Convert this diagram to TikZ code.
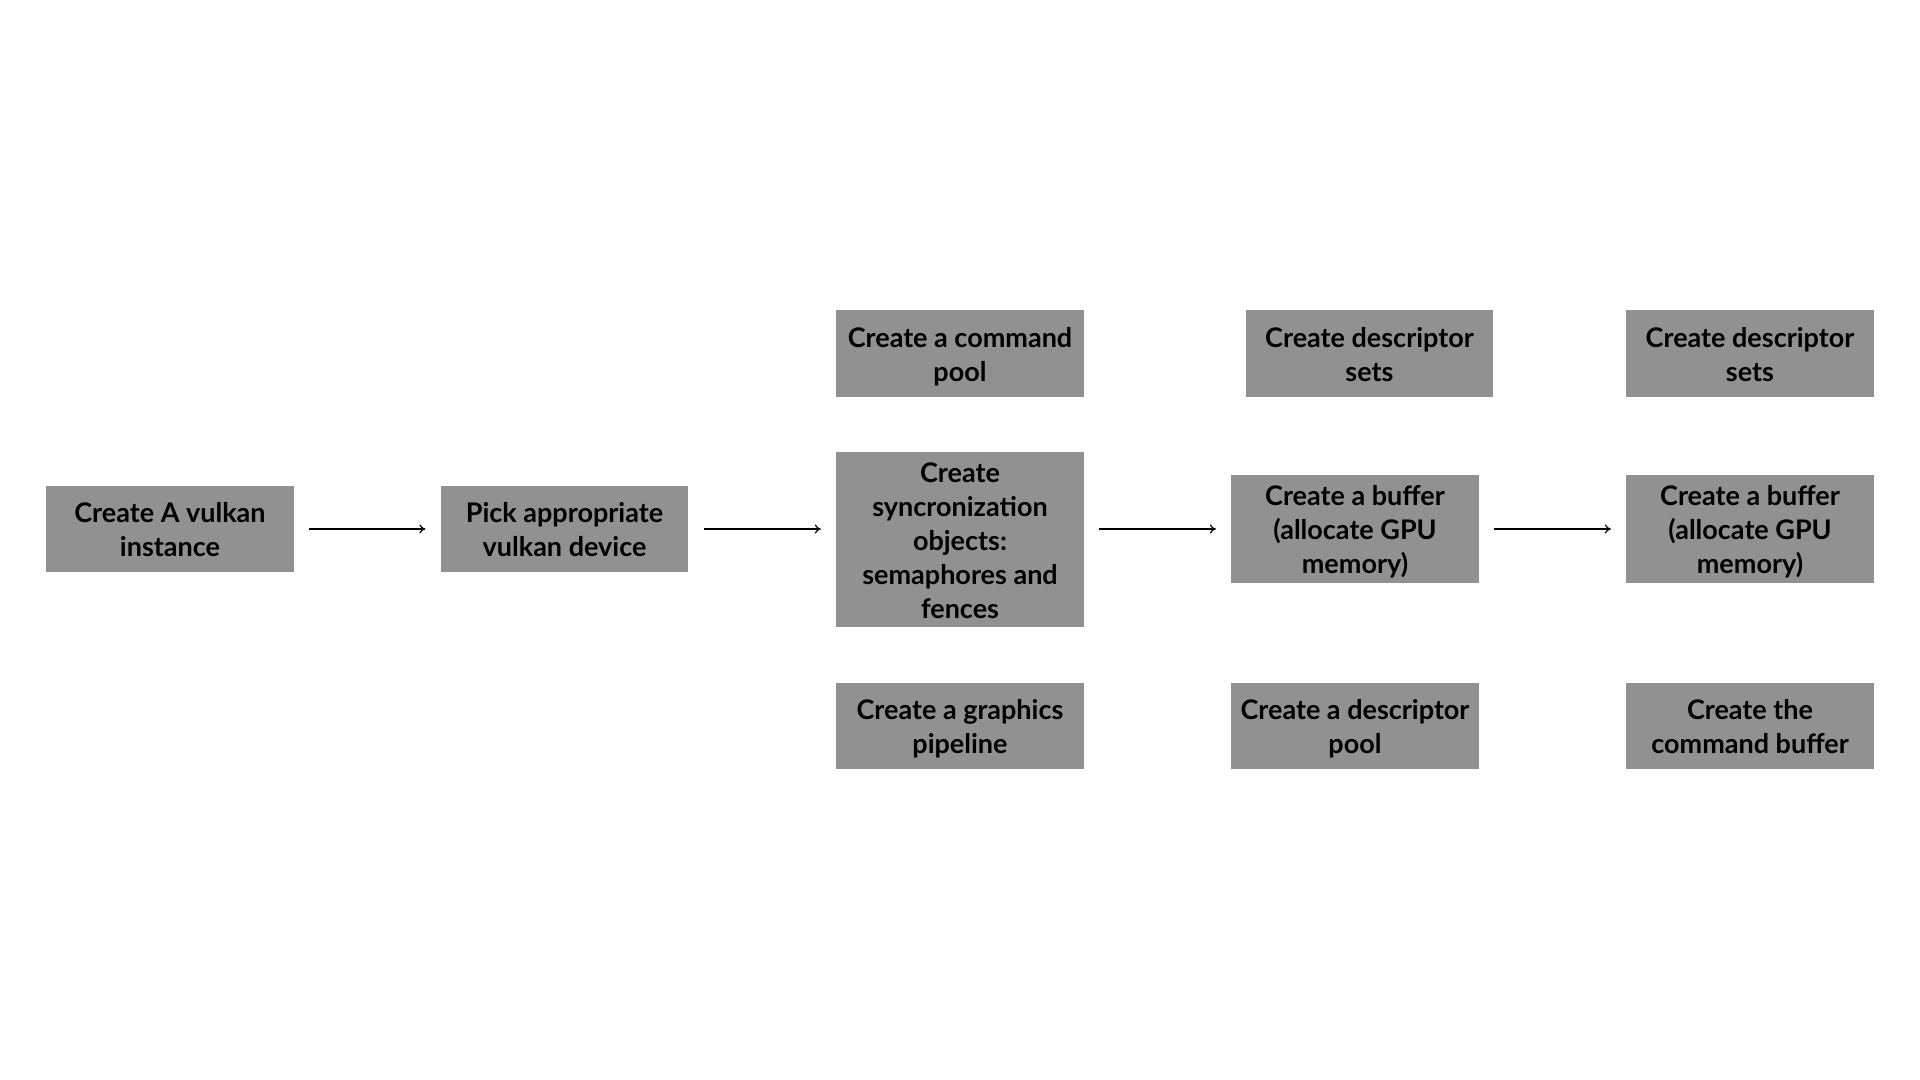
\documentclass[tikz,border=0pt]{standalone}
\usepackage{fontspec}
\setmainfont{Lato}
\usetikzlibrary{arrows.meta}
\definecolor{boxgray}{RGB}{145,145,145}
\newcommand{\boxstrut}{\rule{0pt}{13.6pt}}

\begin{document}
\begin{tikzpicture}[x=0.5pt,y=-0.5pt,
    every node/.style={fill=boxgray,inner sep=0pt,align=center,
      minimum width=123.75pt,font=\bfseries\fontsize{13.5}{17}\selectfont,
      execute at end node={\rule[-2.8pt]{0pt}{2.8pt}}},
    flow/.style={-{To[length=3pt,width=4.5pt]},line width=0.6pt,
      shorten <=7.5pt,shorten >=7.5pt}]

    \useasboundingbox (0,0) rectangle (1920,1080);

    % First two steps
    \node[minimum height=43pt] (inst) at (170,529) {\boxstrut Create A vulkan\\instance};
    \node[minimum height=43pt] (dev) at (564.5,529) {\boxstrut Pick appropriate\\vulkan device};

    % Column 3
    \node[minimum height=43.5pt] (cmdpool) at (960,353.5) {\boxstrut Create a command\\pool};
    \node[minimum height=87.5pt] (sync) at (960,539.5)
      {\boxstrut Create\\syncronization\\objects:\\semaphores and\\fences};
    \node[minimum height=43pt] (pipe) at (960,726) {\boxstrut Create a graphics\\pipeline};

    % Column 4
    \node[minimum height=43.5pt] (sets1) at (1369.5,353.5) {\boxstrut Create descriptor\\sets};
    \node[minimum height=54pt] (buf1) at (1355,529) {\boxstrut Create a buffer\\(allocate GPU\\memory)};
    \node[minimum height=43pt] (dpool) at (1355,726) {\boxstrut Create a descriptor\\pool};

    % Column 5
    \node[minimum height=43.5pt] (sets2) at (1750,353.5) {\boxstrut Create descriptor\\sets};
    \node[minimum height=54pt] (buf2) at (1750,529) {\boxstrut Create a buffer\\(allocate GPU\\memory)};
    \node[minimum height=43pt] (cmdbuf) at (1750,726) {\boxstrut Create the\\command buffer};

    % Arrows
    \draw[flow] (inst) -- (dev);
    \draw[flow] (dev.east) -- (dev.east -| sync.west);
    \draw[flow] (buf1.west -| sync.east) -- (buf1.west);
    \draw[flow] (buf1) -- (buf2);

  \end{tikzpicture}
\end{document}
